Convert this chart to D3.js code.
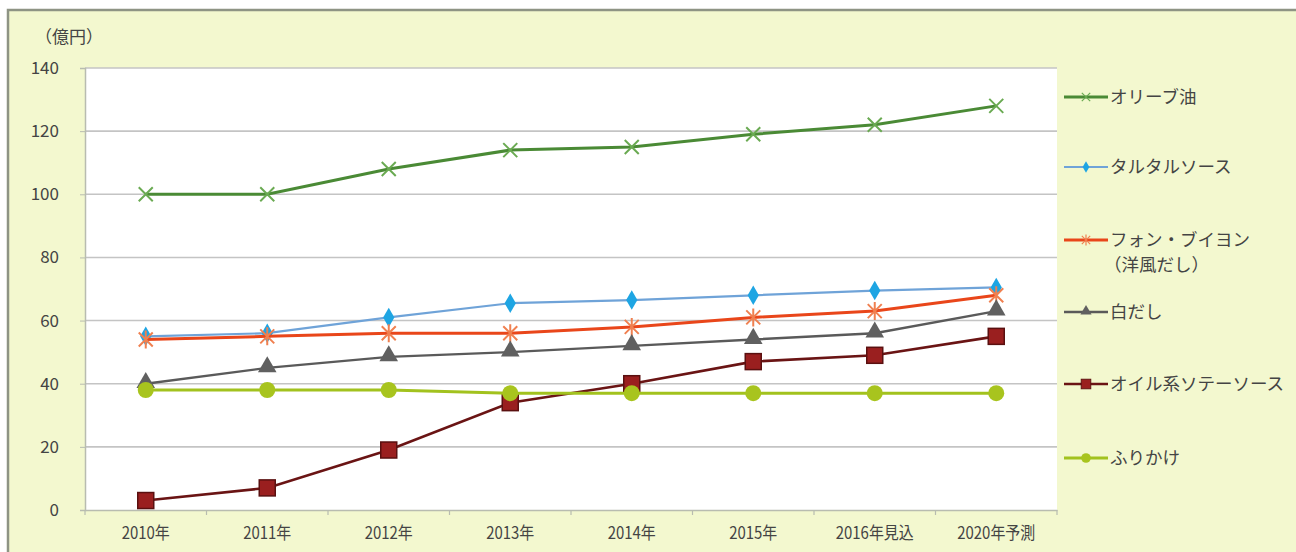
<!DOCTYPE html>
<html><head><meta charset="utf-8">
<script src="https://cdn.jsdelivr.net/npm/d3@7"></script>
<style>
html,body{margin:0;padding:0;background:#fff;}
text{font-family:"Noto Sans CJK JP","Noto Sans",sans-serif;}
</style></head>
<body><svg id="c" width="1296" height="552"></svg>
<script>
const categories = ["2010年","2011年","2012年","2013年","2014年","2015年","2016年見込","2020年予測"];
const yTicks = [0,20,40,60,80,100,120,140];
const seriesNames = ["オリーブ油","タルタルソース","フォン・ブイヨン\n（洋風だし）","白だし","オイル系ソテーソース","ふりかけ"];
const olive    = [100,100,108,114,115,119,122,128];
const tartar   = [55,56,61,65.5,66.5,68,69.5,70.5];
const fond     = [54,55,56,56,58,61,63,68];
const shiro    = [40,45,48.5,50,52,54,56,63];
const oilSoy   = [3,7,19,34,40,47,49,55];
const furikake = [38,38,38,37,37,37,37,37];

const styles = [
  {line:"#4a8a35", mark:"#6aaa52", shape:"x", w:3},
  {line:"#6fa3d8", mark:"#1ea5e3", shape:"diamond", w:2.2},
  {line:"#e9461a", mark:"#f08050", shape:"star", w:3},
  {line:"#5a5a5a", mark:"#606060", shape:"triangle", w:2.4},
  {line:"#6a1414", mark:"#9a1f1f", shape:"square", w:2.6},
  {line:"#a2c21e", mark:"#a8c41e", shape:"circle", w:3}
];
const allValues = [olive,tartar,fond,shiro,oilSoy,furikake];

const svg = d3.select("#c");
svg.append("rect").attr("x",8).attr("y",10).attr("width",1300).attr("height",560)
  .attr("fill","#f3f8cf").attr("stroke","#8e9484").attr("stroke-width",2.5);

const L=85,R=1057,T=68,B=510;
svg.append("rect").attr("x",L).attr("y",T).attr("width",R-L).attr("height",B-T).attr("fill","#ffffff");

const x = d3.scaleBand().domain(categories).range([L,R]);
const y = d3.scaleLinear().domain([0,140]).range([B,T]);

svg.append("g").selectAll("line").data(yTicks.filter(d=>d>0)).join("line")
  .attr("x1",L).attr("x2",R).attr("y1",d=>y(d)).attr("y2",d=>y(d))
  .attr("stroke","#c4c4c4").attr("stroke-width",1.6);

const ya = svg.append("g").attr("transform",`translate(${L},0)`)
  .call(d3.axisLeft(y).tickValues(yTicks).tickSize(5).tickPadding(21));
ya.select(".domain").attr("stroke","#b8bcb0").attr("stroke-width",1.5);
ya.selectAll(".tick line").attr("stroke","#b8bcb0");
ya.selectAll("text").attr("font-size",17).attr("fill","#444").attr("font-family","Liberation Sans Narrow, Liberation Sans, sans-serif");

const xa = svg.append("g").attr("transform",`translate(0,${B})`)
  .call(d3.axisBottom(x).tickSize(0).tickPadding(17));
xa.select(".domain").attr("stroke","#b8bcb0").attr("stroke-width",1.5);
xa.selectAll("text").attr("font-size",17).attr("fill","#444").attr("transform","scale(0.88,1)");
svg.append("g").selectAll("line").data(d3.range(categories.length+1)).join("line")
  .attr("x1",i=>L+i*x.step()).attr("x2",i=>L+i*x.step())
  .attr("y1",B).attr("y2",B+5).attr("stroke","#b8bcb0").attr("stroke-width",1.2);

svg.append("text").attr("x",35).attr("y",43).attr("font-size",17).attr("fill","#444").text("（億円）");

function drawMarker(g, shape, cx, cy, st){
  const s = g.append("g").attr("transform",`translate(${cx},${cy})`);
  if(shape==="x"){
    s.append("path").attr("d","M-7,-7L7,7M-7,7L7,-7").attr("stroke",st.mark).attr("stroke-width",2).attr("fill","none");
  } else if(shape==="diamond"){
    s.append("path").attr("d",d3.symbol(d3.symbolDiamond,110)()).attr("fill",st.mark);
  } else if(shape==="star"){
    s.append("path").attr("d","M-7,-7L7,7M-7,7L7,-7M0,-9L0,9").attr("stroke",st.mark).attr("stroke-width",2).attr("fill","none");
  } else if(shape==="triangle"){
    s.append("path").attr("d",d3.symbol(d3.symbolTriangle,150)()).attr("transform","translate(0,-1)").attr("fill",st.mark);
  } else if(shape==="square"){
    s.append("rect").attr("x",-8).attr("y",-8).attr("width",16).attr("height",16).attr("fill",st.mark).attr("stroke","#5a1010").attr("stroke-width",1.5);
  } else if(shape==="circle"){
    s.append("circle").attr("r",8).attr("fill",st.mark);
  }
}

const line = d3.line().x((d,i)=>x(categories[i])+x.bandwidth()/2).y(d=>y(d));
allValues.forEach((vals,k)=>{
  const st = styles[k];
  const g = svg.append("g");
  g.append("path").datum(vals).attr("d",line).attr("fill","none").attr("stroke",st.line).attr("stroke-width",st.w);
  vals.forEach((v,i)=>drawMarker(g, st.shape, x(categories[i])+x.bandwidth()/2, y(v), st));
});

const legY = [97,167,240,312,384,458];
seriesNames.forEach((name,k)=>{
  const st = styles[k];
  const g = svg.append("g");
  g.append("line").attr("x1",1064).attr("x2",1108).attr("y1",legY[k]).attr("y2",legY[k]).attr("stroke",st.line).attr("stroke-width",st.w);
  const mg = g.append("g").attr("transform",`translate(1086,${legY[k]}) scale(0.6)`);
  drawMarker(mg, st.shape, 0, 0, st);
  const lines = name.split("\n");
  lines.forEach((t,j)=>{
    g.append("text").attr("x",j===0?1110:1104).attr("y",legY[k]+6+j*25).attr("font-size",17.5).attr("fill","#444").text(t);
  });
});
</script></body></html>
